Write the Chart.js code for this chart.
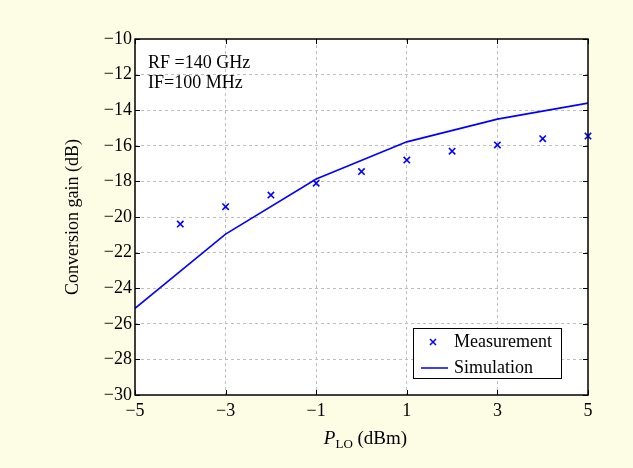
<!DOCTYPE html>
<html>
<head>
<meta charset="utf-8">
<script src="https://cdn.jsdelivr.net/npm/chart.js@4.4.0/dist/chart.umd.min.js"></script>
<style>
  html, body { margin: 0; padding: 0; background: #fdfce4; }
  #wrap { width: 633px; height: 468px; }
</style>
</head>
<body>
<div id="wrap"><canvas id="myChart" width="633" height="468"></canvas></div>
<script>
// values
const measX = [-4, -3, -2, -1, 0, 1, 2, 3, 4, 5];
const measY = [-20.4, -19.42, -18.77, -18.1, -17.45, -16.8, -16.3, -15.95, -15.6, -15.45];
const simX = [-5, -3, -1, 1, 3, 5];
const simY = [-25.13, -20.96, -17.87, -15.78, -14.5, -13.6];
const annotLines = ['RF =140 GHz', 'IF=100 MHz'];

const FONT = '"Liberation Serif", "Times New Roman", serif';
const BLUE = '#0000ff';
const minus = v => String(v).replace('-', '\u2212');

// background, frame with inward ticks, labels and legend
const decor = {
    id: 'decor',
    beforeDraw(chart) {
        const { ctx, chartArea: a } = chart;
        ctx.save();
        ctx.fillStyle = '#fdfce4';
        ctx.fillRect(0, 0, chart.width, chart.height);
        ctx.fillStyle = '#ffffff';
        ctx.fillRect(a.left, a.top, a.right - a.left, a.bottom - a.top);
        ctx.restore();
    },
    afterDraw(chart) {
        const { ctx, chartArea: a, scales } = chart;
        ctx.save();
        ctx.strokeStyle = '#000';
        ctx.lineWidth = 1;
        const tl = 5;
        ctx.beginPath();
        scales.x.ticks.forEach(t => {
            const px = Math.round(scales.x.getPixelForValue(t.value)) + 0.5;
            ctx.moveTo(px, a.bottom); ctx.lineTo(px, a.bottom - tl);
            ctx.moveTo(px, a.top); ctx.lineTo(px, a.top + tl);
        });
        scales.y.ticks.forEach(t => {
            const py = Math.round(scales.y.getPixelForValue(t.value)) + 0.5;
            ctx.moveTo(a.left, py); ctx.lineTo(a.left + tl, py);
            ctx.moveTo(a.right, py); ctx.lineTo(a.right - tl, py);
        });
        ctx.stroke();
        ctx.lineWidth = 1.5;
        ctx.strokeRect(a.left, a.top, a.right - a.left, a.bottom - a.top);

        // annotation text
        ctx.fillStyle = '#000';
        ctx.font = '18px ' + FONT;
        ctx.textBaseline = 'middle';
        ctx.textAlign = 'left';
        annotLines.forEach((s, i) => ctx.fillText(s, a.left + 13, a.top + 24 + i * 20.5));

        // x title: P_LO (dBm)
        const cx = (a.left + a.right) / 2 + 4;
        const ty = 444;
        ctx.font = 'italic 19px ' + FONT;
        const wP = ctx.measureText('P').width;
        ctx.font = '13px ' + FONT;
        const wLO = ctx.measureText('LO').width;
        ctx.font = '19px ' + FONT;
        const wRest = ctx.measureText(' (dBm)').width;
        let x0 = cx - (wP + wLO + wRest) / 2;
        ctx.textBaseline = 'alphabetic';
        ctx.font = 'italic 19px ' + FONT;
        ctx.fillText('P', x0, ty);
        ctx.font = '13px ' + FONT;
        ctx.fillText('LO', x0 + wP, ty + 4);
        ctx.font = '19px ' + FONT;
        ctx.fillText(' (dBm)', x0 + wP + wLO, ty);

        // y title
        ctx.save();
        ctx.translate(73, (a.top + a.bottom) / 2);
        ctx.rotate(-Math.PI / 2);
        ctx.textAlign = 'center';
        ctx.textBaseline = 'middle';
        ctx.font = '18px ' + FONT;
        ctx.fillText('Conversion gain (dB)', 0, 0);
        ctx.restore();

        // legend box
        const lx = 413, ly = 328, lw = 148, lh = 50;
        ctx.fillStyle = '#fff';
        ctx.fillRect(lx, ly, lw, lh);
        ctx.lineWidth = 1;
        ctx.strokeStyle = '#000';
        ctx.strokeRect(lx + 0.5, ly + 0.5, lw, lh);
        const ds = chart.data.datasets;
        ctx.fillStyle = '#000';
        ctx.font = '18px ' + FONT;
        ctx.textBaseline = 'middle';
        ctx.fillText(ds[0].label, lx + 41, ly + 14);
        ctx.fillText(ds[1].label, lx + 41, ly + 40);
        ctx.strokeStyle = BLUE;
        ctx.lineWidth = 1.5;
        ctx.beginPath();
        const mx = lx + 20, my = ly + 14, r = 3;
        ctx.moveTo(mx - r, my - r); ctx.lineTo(mx + r, my + r);
        ctx.moveTo(mx + r, my - r); ctx.lineTo(mx - r, my + r);
        ctx.moveTo(lx + 8, ly + 40); ctx.lineTo(lx + 35, ly + 40);
        ctx.stroke();
        ctx.restore();
    }
};

const ctx = document.getElementById('myChart').getContext('2d');

const myChart = new Chart(ctx, {
    type: 'scatter',
    data: {
        datasets: [{
            label: 'Measurement',
            data: measX.map((x, i) => ({ x: x, y: measY[i] })),
            showLine: false,
            pointStyle: 'crossRot',
            pointRadius: 4.5,
            borderColor: BLUE,
            borderWidth: 1.6,
            clip: false
        }, {
            label: 'Simulation',
            data: simX.map((x, i) => ({ x: x, y: simY[i] })),
            showLine: true,
            pointRadius: 0,
            borderColor: BLUE,
            borderWidth: 1.6,
            tension: 0
        }]
    },
    options: {
        responsive: false,
        animation: false,
        layout: { padding: { left: 0, right: 45, top: 39, bottom: 0 } },
        plugins: { legend: { display: false }, tooltip: { enabled: false } },
        scales: {
            x: {
                type: 'linear',
                min: -5, max: 5,
                afterFit: s => { s.height = 73; },
                ticks: {
                    stepSize: 2,
                    color: '#000',
                    font: { family: FONT, size: 18 },
                    padding: 5,
                    maxRotation: 0,
                    callback: v => minus(v)
                },
                grid: {
                    drawTicks: false,
                    color: ctx => (ctx.tick && (ctx.tick.value === -5 || ctx.tick.value === 5)) ? 'rgba(0,0,0,0)' : '#bdbdbd',
                    lineWidth: 1
                },
                border: { display: false, dash: [3, 3] }
            },
            y: {
                min: -30, max: -10,
                afterFit: s => { s.width = 135; },
                ticks: {
                    stepSize: 2,
                    color: '#000',
                    font: { family: FONT, size: 18 },
                    padding: 3,
                    callback: v => minus(v)
                },
                grid: {
                    drawTicks: false,
                    color: ctx => (ctx.tick && (ctx.tick.value === -30 || ctx.tick.value === -10)) ? 'rgba(0,0,0,0)' : '#bdbdbd',
                    lineWidth: 1
                },
                border: { display: false, dash: [3, 3] }
            }
        }
    },
    plugins: [decor]
});
</script>
</body>
</html>
